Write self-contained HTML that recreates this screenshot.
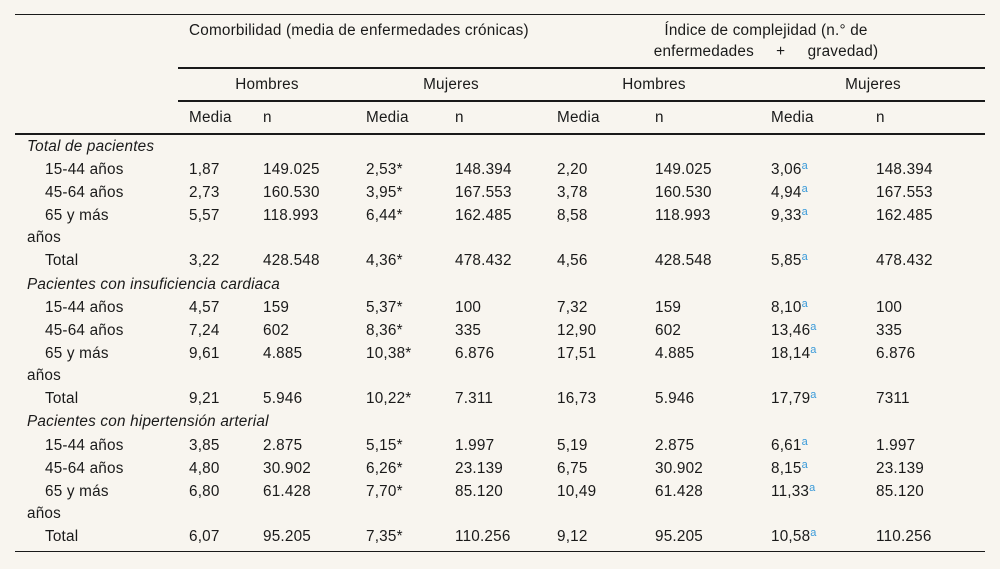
<!DOCTYPE html>
<html><head><meta charset="utf-8"><style>
body{margin:0;background:#f8f5ef;}
#t{position:relative;width:1000px;height:569px;background:#f8f5ef;font-family:"Liberation Sans",sans-serif;font-size:15.3px;letter-spacing:0.2px;color:#1a1a1a;overflow:hidden}
.c{position:absolute;white-space:nowrap;line-height:16px}
.ctr{transform:translateX(-50%)}
.l{position:absolute;background:#1a1a1a}
sup{color:#3a9ad9;font-size:11px;vertical-align:5px;line-height:0}
i{font-style:italic}
</style></head><body>
<div id="t">
<div class="l" style="left:15px;top:14px;width:970px;height:1px"></div>
<div class="l" style="left:178px;top:67px;width:807px;height:2px"></div>
<div class="l" style="left:178px;top:100px;width:807px;height:2px"></div>
<div class="l" style="left:15px;top:133px;width:970px;height:2px"></div>
<div class="l" style="left:15px;top:551px;width:970px;height:1px"></div>
<div class="c" style="left:189px;top:23px">Comorbilidad (media de enfermedades crónicas)</div>
<div class="c ctr" style="left:766px;top:23px">Índice de complejidad (n.° de</div>
<div class="c ctr" style="left:766px;top:44px">enfermedades &nbsp;&nbsp;&nbsp; + &nbsp;&nbsp;&nbsp; gravedad)</div>
<div class="c ctr" style="left:267px;top:77px">Hombres</div>
<div class="c ctr" style="left:451px;top:77px">Mujeres</div>
<div class="c ctr" style="left:654px;top:77px">Hombres</div>
<div class="c ctr" style="left:873px;top:77px">Mujeres</div>
</div>
<script>
var colX=[189,263,366,455,557,655,771,876];
var t=document.getElementById('t');
function add(x,y,html,name){var d=document.createElement('div');d.className='c';d.style.left=x+'px';d.style.top=y+'px';d.innerHTML=html;


t.appendChild(d);}
for(var i=0;i<8;i++)add(colX[i],110,i%2?'n':'Media',i%2?'n-header':'media-header');
var rows=[
['<i>Total de pacientes</i>',27,null],
['15-44 años',45,['1,87','149.025','2,53*','148.394','2,20','149.025','3,06<sup>a</sup>','148.394']],
['45-64 años',45,['2,73','160.530','3,95*','167.553','3,78','160.530','4,94<sup>a</sup>','167.553']],
['65 y más',45,['5,57','118.993','6,44*','162.485','8,58','118.993','9,33<sup>a</sup>','162.485']],
['años',27,null],
['Total',45,['3,22','428.548','4,36*','478.432','4,56','428.548','5,85<sup>a</sup>','478.432']],
['<i>Pacientes con insuficiencia cardiaca</i>',27,null],
['15-44 años',45,['4,57','159','5,37*','100','7,32','159','8,10<sup>a</sup>','100']],
['45-64 años',45,['7,24','602','8,36*','335','12,90','602','13,46<sup>a</sup>','335']],
['65 y más',45,['9,61','4.885','10,38*','6.876','17,51','4.885','18,14<sup>a</sup>','6.876']],
['años',27,null],
['Total',45,['9,21','5.946','10,22*','7.311','16,73','5.946','17,79<sup>a</sup>','7311']],
['<i>Pacientes con hipertensión arterial</i>',27,null],
['15-44 años',45,['3,85','2.875','5,15*','1.997','5,19','2.875','6,61<sup>a</sup>','1.997']],
['45-64 años',45,['4,80','30.902','6,26*','23.139','6,75','30.902','8,15<sup>a</sup>','23.139']],
['65 y más',45,['6,80','61.428','7,70*','85.120','10,49','61.428','11,33<sup>a</sup>','85.120']],
['años',27,null],
['Total',45,['6,07','95.205','7,35*','110.256','9,12','95.205','10,58<sup>a</sup>','110.256']]
];
var ys=[147,170,193,216,238,261,285,308,331,354,376,399,422,446,469,492,514,537];
rows.forEach(function(r,k){var y=ys[k]-8;add(r[1],y,r[0],'row-label');
if(r[2])r[2].forEach(function(v,j){add(colX[j],y,v,'cell-value');});});
</script>
</body></html>
